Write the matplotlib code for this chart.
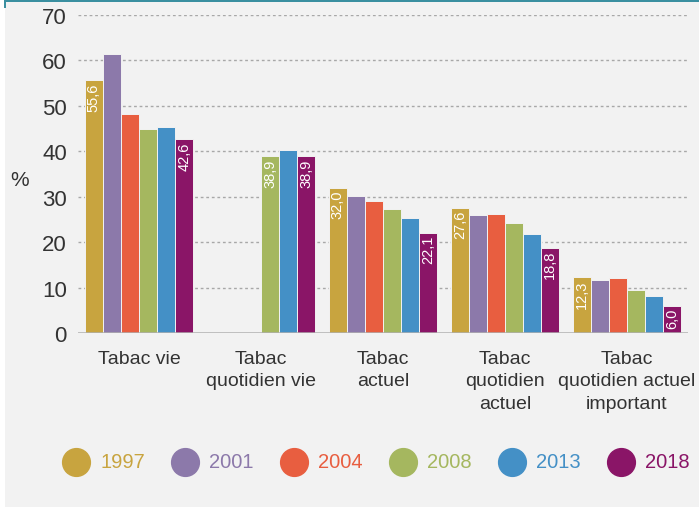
import numpy as np
import matplotlib
matplotlib.use("Agg")
import matplotlib.pyplot as plt
from matplotlib.lines import Line2D
from matplotlib.patches import Rectangle

plt.rcParams['font.family'] = ['Liberation Sans', 'DejaVu Sans']

categories = ["Tabac vie", "Tabac\nquotidien vie", "Tabac\nactuel",
              "Tabac\nquotidien\nactuel", "Tabac\nquotidien actuel\nimportant"]
years = ["1997", "2001", "2004", "2008", "2013", "2018"]
colors = ["#c8a43f", "#8c79aa", "#e85e40", "#a5b75f", "#4490c6", "#8a1567"]

v1997 = [55.6, np.nan, 32.0, 27.6, 12.3]
v2001 = [61.4, np.nan, 30.1, 25.9, 11.6]
v2004 = [48.2, np.nan, 29.1, 26.1, 12.2]
v2008 = [45.0, 38.9, 27.4, 24.3, 9.5]
v2013 = [45.3, 40.2, 25.4, 21.7, 8.2]
v2018 = [42.6, 38.9, 22.1, 18.8, 6.0]
series = [v1997, v2001, v2004, v2008, v2013, v2018]

# which bars carry a value label: (series index, category index)
labelled = [(0, 0), (5, 0), (3, 1), (5, 1), (0, 2), (5, 2), (0, 3), (5, 3), (0, 4), (5, 4)]

yticks = [0, 10, 20, 30, 40, 50, 60, 70]

BG = "#f2f2f2"
fig = plt.figure(figsize=(6.99, 5.10), dpi=100)
fig.patch.set_facecolor("white")
# grey panel + teal top rule
fig.add_artist(Rectangle((5 / 699, 2 / 510), 1 - 5 / 699, 1 - 2 / 510, transform=fig.transFigure,
                         facecolor=BG, edgecolor="none", zorder=0))
fig.add_artist(Rectangle((4 / 699, 1 - 3 / 510), 1, 3 / 510, transform=fig.transFigure,
                         facecolor="#3a8fa0", edgecolor="none", zorder=1))
fig.add_artist(Rectangle((4 / 699, 1 - 9 / 510), 1.5 / 699, 9 / 510, transform=fig.transFigure,
                         facecolor="#3a8fa0", edgecolor="none", zorder=1))

ax = fig.add_axes([78 / 699, (510 - 334) / 510, (688 - 78) / 699, (334 - 16) / 510])
ax.set_facecolor("none")

x = np.arange(len(categories))
w = 0.148
for i, (vals, c) in enumerate(zip(series, colors)):
    pos = x + (i - 2.5) * w
    ax.bar(pos, vals, width=w, color=c, edgecolor=BG, linewidth=0.7, zorder=3)

for si, ci in labelled:
    v = series[si][ci]
    px = x[ci] + (si - 2.5) * w
    ax.text(px, v - 0.5, f"{v:.1f}".replace(".", ","), rotation=90, ha="center", va="top",
            color="white", fontsize=10.5, zorder=4)

ax.set_xlim(-0.5, 4.5)
ax.set_ylim(0, 70)
ax.set_yticks(yticks)
ax.set_yticklabels([str(t) for t in yticks], fontsize=16, color="#333333")
ax.set_xticks(x)
ax.set_xticklabels(categories, fontsize=14, color="#333333", linespacing=1.42, va="top")
ax.tick_params(axis="both", length=0)
ax.tick_params(axis="x", pad=12)
ax.tick_params(axis="y", pad=8)
for t in yticks[1:]:
    ax.axhline(t, color="#a8a8a8", linewidth=1.0, linestyle=(0, (2, 2)), zorder=1)
ax.axhline(0, color="#b0b0b0", linewidth=1.8, zorder=5)
for s in ax.spines.values():
    s.set_visible(False)

fig.text(20 / 699, 1 - 180 / 510, "%", fontsize=15, color="#333333", ha="center", va="center")

# legend
cx = [76, 185, 294, 403, 512, 621]
ly = 1 - 463 / 510
for xx, yr, c in zip(cx, years, colors):
    fig.add_artist(Line2D([xx / 699], [ly], marker="o", markersize=20, color=c,
                          linestyle="none", transform=fig.transFigure))
    fig.text((xx + 24) / 699, ly, yr, color=c, fontsize=14.5, ha="left", va="center")

fig.savefig("out.png", dpi=100, facecolor=fig.get_facecolor())
